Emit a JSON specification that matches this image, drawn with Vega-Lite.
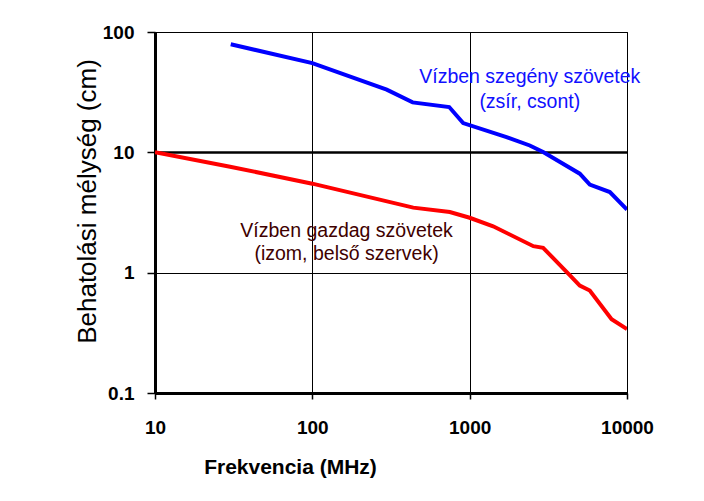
{
  "$schema": "https://vega.github.io/schema/vega-lite/v6.json",
  "autosize": "none",
  "width": 472,
  "height": 361,
  "padding": {"left": 155, "top": 32, "right": 77, "bottom": 108},
  "background": "white",
  "config": {
    "view": {"stroke": "black", "strokeWidth": 1},
    "font": "Liberation Sans"
  },
  "datasets": {
    "curves": [
      {"f": 30.3, "d": 79, "tissue": "poor"},
      {"f": 100, "d": 55.2, "tissue": "poor"},
      {"f": 297, "d": 33.2, "tissue": "poor"},
      {"f": 434, "d": 26, "tissue": "poor"},
      {"f": 741, "d": 23.8, "tissue": "poor"},
      {"f": 909, "d": 17.5, "tissue": "poor"},
      {"f": 1715, "d": 13.4, "tissue": "poor"},
      {"f": 2410, "d": 11.4, "tissue": "poor"},
      {"f": 2930, "d": 10.06, "tissue": "poor"},
      {"f": 5010, "d": 6.65, "tissue": "poor"},
      {"f": 5800, "d": 5.39, "tissue": "poor"},
      {"f": 7780, "d": 4.68, "tissue": "poor"},
      {"f": 10000, "d": 3.35, "tissue": "poor"},
      {"f": 10, "d": 10, "tissue": "rich"},
      {"f": 30, "d": 7.6, "tissue": "rich"},
      {"f": 100, "d": 5.49, "tissue": "rich"},
      {"f": 438, "d": 3.47, "tissue": "rich"},
      {"f": 748, "d": 3.19, "tissue": "rich"},
      {"f": 1000, "d": 2.86, "tissue": "rich"},
      {"f": 1410, "d": 2.43, "tissue": "rich"},
      {"f": 2540, "d": 1.66, "tissue": "rich"},
      {"f": 2930, "d": 1.61, "tissue": "rich"},
      {"f": 4340, "d": 0.95, "tissue": "rich"},
      {"f": 5010, "d": 0.78, "tissue": "rich"},
      {"f": 5800, "d": 0.71, "tissue": "rich"},
      {"f": 7980, "d": 0.41, "tissue": "rich"},
      {"f": 10000, "d": 0.34, "tissue": "rich"}
    ],
    "labels": [
      {"f": 2410, "d": 42, "text": "Vízben szegény szövetek", "tissue": "poor"},
      {"f": 2410, "d": 26.1, "text": "(zsír, csont)", "tissue": "poor"},
      {"f": 165, "d": 2.2, "text": "Vízben gazdag szövetek", "tissue": "rich"},
      {"f": 165, "d": 1.42, "text": "(izom, belső szervek)", "tissue": "rich"}
    ]
  },
  "layer": [
    {
      "data": {"name": "curves"},
      "mark": {"type": "line", "strokeWidth": 4, "clip": true},
      "encoding": {
        "x": {
          "field": "f", "type": "quantitative",
          "scale": {"type": "log", "domain": [10, 10000], "nice": false},
          "axis": {
            "values": [10, 100, 1000, 10000],
            "format": "d",
            "title": "Frekvencia (MHz)",
            "titleFont": "Liberation Sans",
            "titleFontSize": 21,
            "titleFontWeight": "bold",
            "titleColor": "black",
            "titleX": 135,
            "titleY": 63,
            "titleAlign": "center",
            "titleBaseline": "top",
            "labelFont": "Liberation Sans",
            "labelFontSize": 19,
            "labelFontWeight": "bold",
            "labelColor": "black",
            "labelPadding": 19,
            "labelFlush": false,
            "labelOverlap": false,
            "domainColor": "black",
            "domainWidth": 3,
            "tickColor": "black",
            "tickWidth": 1.5,
            "tickSize": 6,
            "grid": true,
            "gridColor": "black",
            "gridWidth": 1,
            "gridOpacity": 1
          }
        },
        "y": {
          "field": "d", "type": "quantitative",
          "scale": {"type": "log", "domain": [0.1, 100], "nice": false},
          "axis": {
            "values": [0.1, 1, 10, 100],
            "format": "~g",
            "title": "Behatolási mélység (cm)",
            "titleFont": "Liberation Sans",
            "titleFontSize": 26,
            "titleFontWeight": "normal",
            "titleColor": "black",
            "titleX": -68,
            "titleY": 169,
            "titleAngle": -90,
            "titleAlign": "center",
            "titleBaseline": "middle",
            "labelFont": "Liberation Sans",
            "labelFontSize": 19,
            "labelFontWeight": "bold",
            "labelColor": "black",
            "labelPadding": 13,
            "labelFlush": false,
            "labelOverlap": false,
            "domainColor": "black",
            "domainWidth": 3,
            "tickColor": "black",
            "tickWidth": 1.5,
            "tickSize": 8,
            "grid": true,
            "gridColor": "black",
            "gridWidth": {"condition": {"test": "datum.value == 10", "value": 2.5}, "value": 1},
            "gridOpacity": 1
          }
        },
        "color": {
          "field": "tissue", "type": "nominal",
          "scale": {"domain": ["poor", "rich"], "range": ["#0000ff", "#ff0000"]},
          "legend": null
        },
        "detail": {"field": "tissue"}
      }
    },
    {
      "data": {"name": "labels"},
      "mark": {"type": "text", "font": "Liberation Sans", "fontSize": 19.5, "align": "center", "baseline": "middle"},
      "encoding": {
        "x": {"field": "f", "type": "quantitative", "scale": {"type": "log"}},
        "y": {"field": "d", "type": "quantitative", "scale": {"type": "log"}},
        "text": {"field": "text"},
        "color": {
          "field": "tissue", "type": "nominal",
          "scale": {"domain": ["poor", "rich"], "range": ["#1010ff", "#400000"]},
          "legend": null
        }
      }
    }
  ],
  "resolve": {"scale": {"color": "independent"}}
}
